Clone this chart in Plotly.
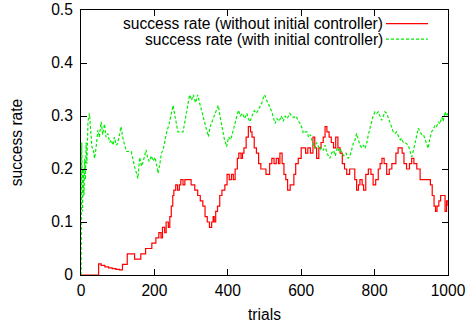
import plotly.graph_objects as go

# red: success rate (without initial controller)
red_trials = [0, 48, 55, 65, 75, 85, 95, 105, 113, 126, 146, 163, 176, 193, 204, 212, 218, 222, 228, 232,
              238, 242, 246, 250, 253, 258, 263, 268, 272, 278, 283, 292, 300, 310, 318, 325, 332, 338, 344, 350,
              356, 360, 363, 367, 372, 378, 384, 392, 398, 404, 410, 415, 420, 426, 430, 436, 440, 444, 450, 456,
              462, 466, 472, 478, 484, 490, 497, 504, 510, 514, 520, 526, 532, 538, 542, 548, 553, 558, 563, 570,
              576, 580, 585, 592, 600, 606, 612, 618, 625, 632, 637, 642, 648, 654, 660, 665, 670, 676, 682, 688,
              694, 700, 706, 712, 718, 724, 732, 740, 746, 751, 756, 760, 766, 770, 776, 783, 790, 796, 803, 810,
              815, 820, 826, 833, 840, 847, 853, 858, 864, 870, 875, 880, 887, 895, 901, 907, 915, 924, 935, 945,
              952, 957, 962, 966, 970, 975, 980, 987, 992, 996, 1000]
red_rate = [0.0, 0.021, 0.018, 0.0155, 0.0135, 0.012, 0.0105, 0.0095, 0.02, 0.04, 0.03, 0.04, 0.05, 0.06, 0.07, 0.08, 0.07, 0.09, 0.08, 0.10,
            0.09, 0.11, 0.13, 0.15, 0.16, 0.17, 0.16, 0.17, 0.18, 0.17, 0.18, 0.18, 0.17, 0.16, 0.15, 0.14, 0.13, 0.11, 0.10, 0.09,
            0.10, 0.11, 0.10, 0.12, 0.13, 0.15, 0.16, 0.17, 0.19, 0.18, 0.19, 0.18, 0.20, 0.22, 0.23, 0.22, 0.23, 0.24, 0.26, 0.28,
            0.27, 0.26, 0.24, 0.23, 0.21, 0.20, 0.20, 0.19, 0.19, 0.21, 0.22, 0.21, 0.22, 0.21, 0.23, 0.21, 0.19, 0.18, 0.16, 0.17,
            0.17, 0.19, 0.21, 0.22, 0.24, 0.24, 0.23, 0.24, 0.23, 0.26, 0.24, 0.22, 0.24, 0.25, 0.26, 0.28, 0.27, 0.26, 0.25, 0.24,
            0.26, 0.24, 0.23, 0.21, 0.20, 0.19, 0.20, 0.20, 0.18, 0.16, 0.17, 0.18, 0.17, 0.16, 0.19, 0.20, 0.19, 0.17, 0.18, 0.20,
            0.21, 0.22, 0.21, 0.19, 0.20, 0.21, 0.21, 0.23, 0.24, 0.24, 0.23, 0.21, 0.20, 0.21, 0.22, 0.21, 0.20, 0.18, 0.18, 0.18,
            0.17, 0.15, 0.13, 0.12, 0.13, 0.14, 0.15, 0.15, 0.12, 0.14, 0.13]

# green: success rate (with initial controller)
green_trials = [0, 2, 4, 6, 8, 10, 12, 14, 16, 19, 23, 27, 30, 33, 37, 41, 46, 50, 55, 59,
                64, 68, 73, 78, 82, 87, 91, 96, 100, 105, 109, 115, 120, 124, 137, 142, 146, 150, 155, 160,
                165, 170, 177, 182, 186, 192, 196, 202, 206, 210, 215, 219, 225, 233, 240, 246, 251, 256, 260, 264,
                278, 283, 287, 292, 296, 301, 306, 312, 318, 323, 330, 337, 342, 347, 352, 358, 365, 369, 374, 380,
                386, 391, 397, 402, 408, 415, 420, 425, 429, 434, 440, 446, 452, 456, 460, 466, 472, 478, 483, 488,
                493, 497, 501, 505, 510, 515, 520, 525, 529, 534, 540, 546, 551, 556, 562, 569, 574, 580, 586, 591,
                597, 602, 606, 611, 616, 620, 625, 629, 633, 637, 642, 646, 651, 655, 660, 665, 670, 674, 678, 683,
                688, 693, 698, 702, 706, 711, 716, 722, 728, 733, 738, 742, 747, 751, 756, 760, 765, 770, 774, 779,
                783, 787, 792, 796, 801, 806, 810, 815, 819, 824, 828, 833, 838, 843, 847, 851, 856, 860, 865, 870,
                874, 878, 883, 887, 892, 896, 901, 906, 910, 915, 919, 924, 929, 933, 938, 942, 946, 950, 955, 960,
                965, 969, 974, 978, 983, 987, 992, 996, 1000]
green_rate = [0.0, 0.25, 0.12, 0.20, 0.15, 0.22, 0.18, 0.25, 0.21, 0.29, 0.305, 0.26, 0.24, 0.239, 0.22, 0.24, 0.274, 0.26, 0.289, 0.265,
              0.285, 0.26, 0.267, 0.25, 0.255, 0.245, 0.26, 0.245, 0.248, 0.265, 0.28, 0.255, 0.24, 0.233, 0.233, 0.215, 0.204, 0.195, 0.182, 0.222,
              0.205, 0.215, 0.236, 0.22, 0.214, 0.225, 0.215, 0.222, 0.205, 0.192, 0.21, 0.229, 0.24, 0.268, 0.285, 0.305, 0.32, 0.30, 0.28, 0.27,
              0.27, 0.29, 0.305, 0.325, 0.34, 0.33, 0.34, 0.325, 0.34, 0.325, 0.305, 0.29, 0.275, 0.261, 0.28, 0.29, 0.305, 0.31, 0.32, 0.295,
              0.275, 0.255, 0.242, 0.26, 0.255, 0.274, 0.285, 0.30, 0.311, 0.30, 0.305, 0.295, 0.305, 0.295, 0.289, 0.30, 0.31, 0.305, 0.312, 0.318,
              0.325, 0.335, 0.34, 0.33, 0.325, 0.315, 0.308, 0.295, 0.286, 0.295, 0.29, 0.30, 0.29, 0.30, 0.295, 0.305, 0.30, 0.297, 0.30, 0.292,
              0.286, 0.278, 0.267, 0.27, 0.27, 0.26, 0.265, 0.255, 0.245, 0.239, 0.25, 0.245, 0.236, 0.24, 0.235, 0.245, 0.23, 0.225, 0.22, 0.23,
              0.235, 0.225, 0.24, 0.235, 0.239, 0.23, 0.225, 0.23, 0.22, 0.225, 0.24, 0.248, 0.255, 0.267, 0.255, 0.245, 0.24, 0.245, 0.239, 0.25,
              0.265, 0.277, 0.29, 0.30, 0.308, 0.305, 0.308, 0.30, 0.292, 0.30, 0.308, 0.305, 0.295, 0.285, 0.28, 0.27, 0.267, 0.27, 0.262, 0.255,
              0.258, 0.25, 0.25, 0.248, 0.245, 0.235, 0.223, 0.235, 0.25, 0.265, 0.277, 0.27, 0.265, 0.265, 0.255, 0.245, 0.239, 0.255, 0.27, 0.275,
              0.283, 0.28, 0.289, 0.285, 0.298, 0.29, 0.308, 0.30, 0.305]

red_name = "success rate (without initial controller)"
green_name = "success rate (with initial controller)"
x_ticks = [0, 200, 400, 600, 800, 1000]
y_ticks = [0, 0.1, 0.2, 0.3, 0.4, 0.5]

RED = "#ff0000"
GREEN = "#00ee00"
FONT = "Liberation Sans, Arial, sans-serif"
FS = 15.6

fig = go.Figure()
fig.add_trace(go.Scatter(x=red_trials, y=red_rate, mode="lines", name=red_name,
                         line=dict(color=RED, width=1.2, shape="hv"), showlegend=False))
fig.add_trace(go.Scatter(x=green_trials, y=green_rate, mode="lines", name=green_name,
                         line=dict(color=GREEN, width=1.2, dash="3px,2px"), showlegend=False))

axis_common = dict(showline=True, linecolor="black", linewidth=1, mirror="ticks",
                   ticks="inside", ticklen=6, tickcolor="black", showgrid=False, zeroline=False,
                   automargin=False, tickfont=dict(family=FONT, size=FS, color="black"))

fig.update_xaxes(range=[0, 1000], tickvals=x_ticks, ticktext=[str(v) for v in x_ticks],
                 ticklabelstandoff=1,
                 title=dict(text="trials", font=dict(family=FONT, size=FS, color="black"), standoff=11),
                 **axis_common)
fig.update_yaxes(range=[0, 0.5], tickvals=y_ticks, ticktext=["0", "0.1", "0.2", "0.3", "0.4", "0.5"],
                 ticklabelstandoff=4,
                 title=dict(text="success rate", font=dict(family=FONT, size=FS, color="black"), standoff=24),
                 **axis_common)

# legend (gnuplot style: text right-aligned, sample to its right)
legend_rows = [(red_name, RED, "solid", 0.9485), (green_name, GREEN, "3px,2px", 0.890)]
for text, color, dash, yy in legend_rows:
    fig.add_annotation(x=0.8256, y=yy, xref="paper", yref="paper", text=text, showarrow=False,
                       xanchor="right", yanchor="middle", borderpad=0,
                       font=dict(family=FONT, size=FS, color="black"))
    fig.add_shape(type="line", xref="paper", yref="paper", x0=0.8311, x1=0.9455, y0=yy, y1=yy,
                  line=dict(color=color, width=1.2, dash=dash))

fig.update_layout(width=467, height=324, margin=dict(l=81, r=19, t=10, b=49),
                  plot_bgcolor="white", paper_bgcolor="white", font=dict(family=FONT, size=FS, color="black"))

# remove the browser's default 8px body margin so the figure sits at the page origin
fig.write_html("out.html", config={"displayModeBar": False},
               post_script="document.body.style.margin='0';")
